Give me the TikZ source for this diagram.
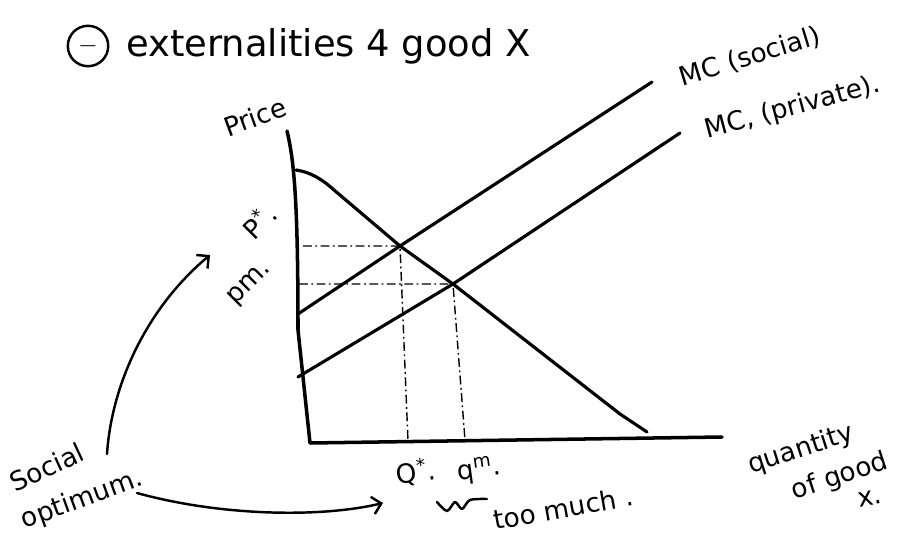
\documentclass[tikz,border=0pt]{standalone}
\usepackage{fontspec}
\setmainfont{DejaVu Sans}
\usetikzlibrary{arrows.meta,positioning}
\tikzset{
  curve/.style={line width=1.8pt, line cap=round, line join=round},
  guide/.style={line width=0.8pt, dash pattern=on 5pt off 2pt on 1pt off 2pt},
  note/.style={font=\fontsize{15}{17}\selectfont, inner sep=1pt},
  pointer/.style={line width=1.4pt, line cap=round, -{Straight Barb[length=5pt,width=10pt]}}
}
\begin{document}
\begin{tikzpicture}[x=0.02cm,y=-0.02cm]
	\useasboundingbox (0,0) rectangle (899,537);
	\coordinate (ytop) at (287,131);
	\coordinate (O) at (310,443);
	\coordinate (xend) at (722,437);
	\coordinate (dtop) at (296,170);
	\coordinate (dend) at (647,432);
	\coordinate (Es) at (400,246);
	\coordinate (Em) at (453,284);
	\coordinate (msA) at (298,314);
	\coordinate (msB) at (652,82);
	\coordinate (mpA) at (298,377);
	\coordinate (mpB) at (680,133);
	\coordinate (Ps) at (303,246);
	\coordinate (Pm) at (299,284);
	\coordinate (Qs) at (408,441);
	\coordinate (Qm) at (465,440);
	\draw[curve, line width=2pt] (ytop) .. controls (294,160) and (298,200) .. (298,330) -- (O) -- (xend);
	\draw[curve] (dtop) .. controls (310,172) and (322,179) .. (334,190) -- (Es) -- (Em) -- (620,414) .. controls (632,422) .. (dend);
	\draw[curve] (msA) -- (Es) -- (msB);
	\draw[curve] (mpA) -- (Em) -- (mpB);
	\draw[guide] (Ps) -- (Es) -- (Qs);
	\draw[guide] (Pm) -- (Em) -- (Qm);
	\node[font=\fontsize{21}{24}\selectfont, anchor=west] (title) at (120,46) {externalities 4 good X};
	\node[draw, circle, line width=1.4pt, minimum size=23pt, inner sep=0pt, left=6pt of title] (minus) {\Large$-$};
	\node[note, rotate=20] (price) at (255,117) {Price};
	\node[note, rotate=45] (pstar) at (259,221) {P\textsuperscript{*}.};
	\node[note, rotate=45] (pm) at (250,284) {pm.};
	\node[note, rotate=17] (msoc) at (750,57) {MC (social)};
	\node[note, rotate=15] (mpriv) at (793,108) {MC, (private).};
	\node[note, rotate=8] (qstar) at (416,472) {Q\textsuperscript{*}.};
	\node[note, rotate=8] (qm) at (479,470) {q\textsuperscript{m}.};
	\node[note, rotate=10] (much) at (563,508) {too much .};
	\node[note, rotate=25] (social1) at (47,467) {Social};
	\node[note, rotate=20] (social2) at (82,500) {optimum.};
	\node[note, rotate=18] (qty1) at (801,450) {quantity};
	\node[note, rotate=18] (qty2) at (840,477) {of good};
	\node[note, rotate=10] (qty3) at (870,498) {x.};
	\coordinate (s1) at (107,454);
	\coordinate (a1) at (210,255);
	\coordinate (s2) at (137,493);
	\coordinate (a2) at (383,503);
	\draw[pointer] (s1) .. controls (112,380) and (150,305) .. (a1);
	\draw[pointer] (s2) .. controls (220,516) and (320,518) .. (a2);
	\draw[curve, line width=1.4pt] plot[smooth] coordinates {(437,502) (447,511) (455,502) (462,509) (470,500) (487,499)};
\end{tikzpicture}
\end{document}
